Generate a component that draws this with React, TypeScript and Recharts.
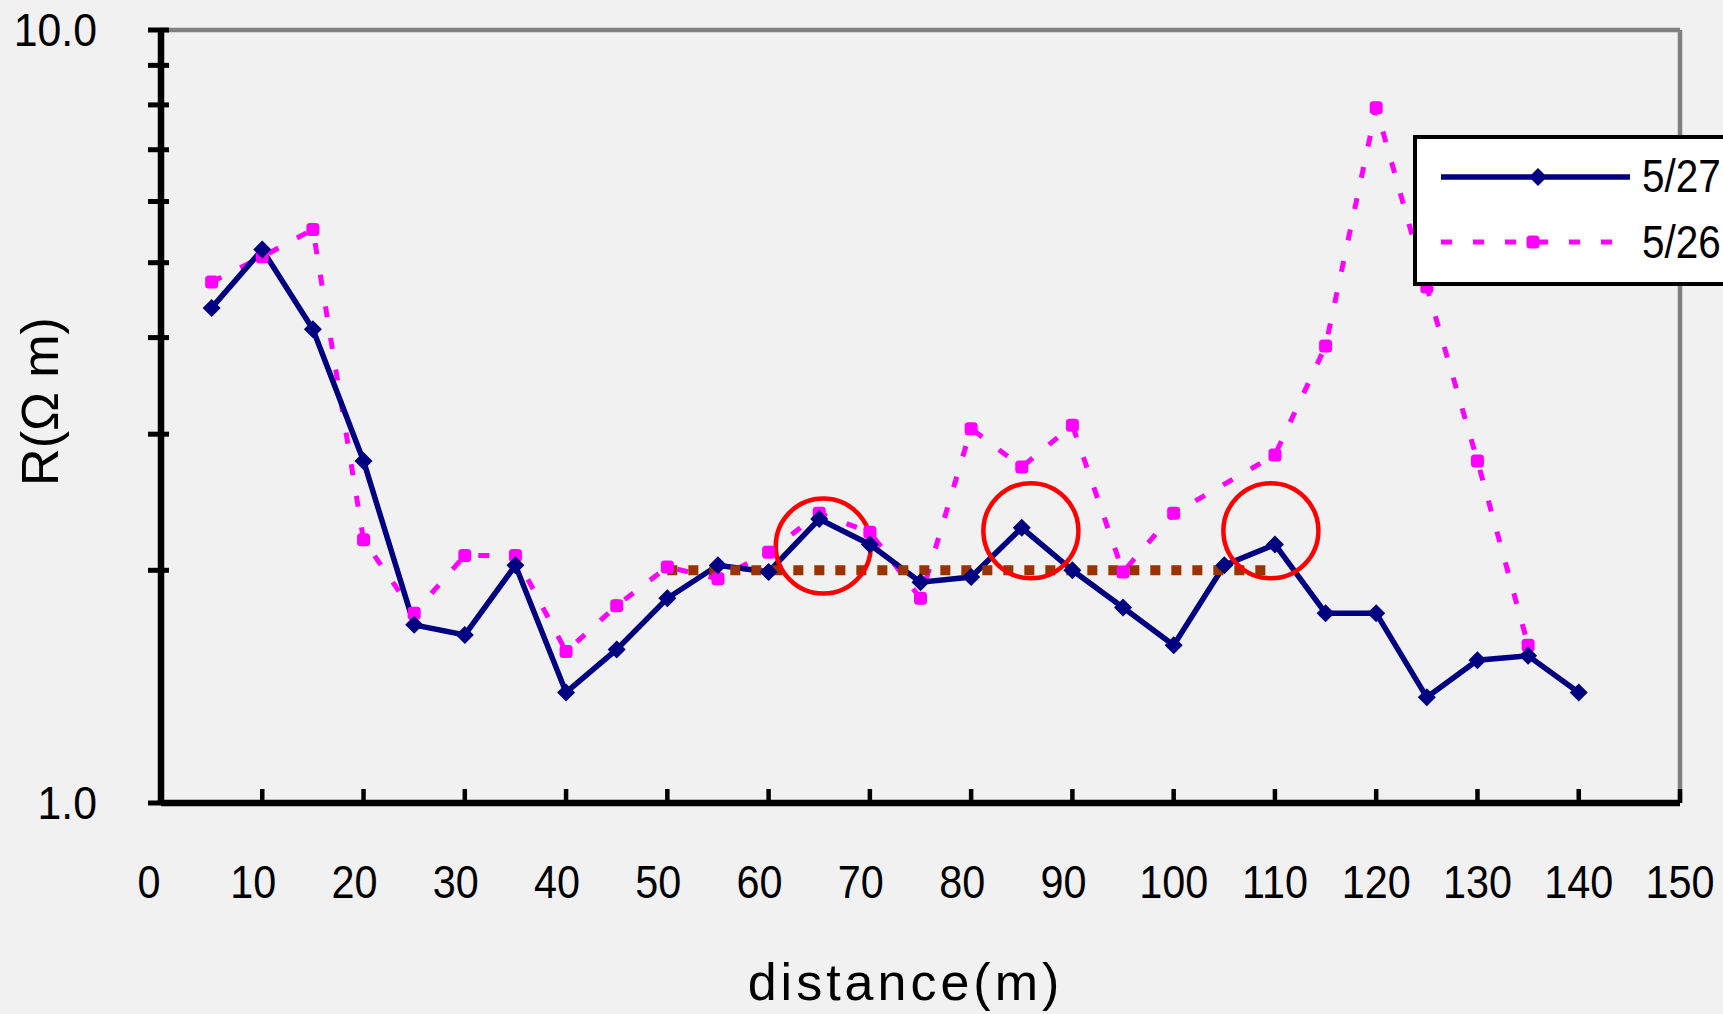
import React from 'react'
import { LineChart, Line, XAxis, YAxis, ReferenceLine, ReferenceDot, Legend } from 'recharts'

// distance along the line (m)
const distances = [5, 10, 15, 20, 25, 30, 35, 40, 45, 50, 55, 60, 65, 70, 75, 80, 85, 90, 95, 100, 105, 110, 115, 120, 125, 130, 135, 140]
// resistivity, 5/27
const r0527 = [4.37, 5.2, 4.1, 2.77, 1.7, 1.65, 2.03, 1.39, 1.58, 1.84, 2.03, 1.99, 2.33, 2.16, 1.93, 1.96, 2.27, 2.0, 1.79, 1.6, 2.03, 2.16, 1.76, 1.76, 1.37, 1.53, 1.55, 1.39]
// resistivity, 5/26 (no reading at 105 and 140)
const r0526 = [4.72, 5.09, 5.52, 2.19, 1.76, 2.09, 2.09, 1.57, 1.8, 2.02, 1.95, 2.11, 2.37, 2.24, 1.84, 3.05, 2.72, 3.08, 1.99, 2.37, null, 2.82, 3.9, 7.93, 4.65, 2.77, 1.6, null]

const xTicks = [0, 10, 20, 30, 40, 50, 60, 70, 80, 90, 100, 110, 120, 130, 140, 150]
const yTicks = [1, 2, 3, 4, 5, 6, 7, 8, 9, 10]
const yLabelled = [1, 10]

// highlighted peaks (red circles) and the 2.0 baseline
const circles = [
  { x: 65.4, y: 2.15 },
  { x: 85.9, y: 2.25 },
  { x: 109.6, y: 2.25 },
]
const baseline = { from: 50, to: 110, value: 2 }

const data = distances.map((d, i) => ({ d, a: r0527[i], b: r0526[i] }))

const NAVY = '#000080'
const PINK = '#FF00FF'
const font = "'Liberation Sans', Arial, sans-serif"

// condensed text, like the gothic face of the original
const Narrow = ({ x, y, anchor = 'start', size, sx = 0.9, children }: any) => (
  <text transform={`translate(${x},${y}) scale(${sx},1)`} textAnchor={anchor} fontFamily={font} fontSize={size} fill="#000">
    {children}
  </text>
)

const diamond = (cx: number, cy: number, key?: string) => (
  <polygon key={key} points={`${cx},${cy - 9} ${cx + 9},${cy} ${cx},${cy + 9} ${cx - 9},${cy}`} fill={NAVY} />
)
const square = (cx: number, cy: number, key?: string) => (
  <rect key={key} x={cx - 6.5} y={cy - 6.5} width={13} height={13} rx={3.5} fill={PINK} />
)

const NavyDot = (p: any) => (p.cy == null ? <g key={`n${p.index}`} /> : diamond(p.cx, p.cy, `n${p.index}`))
const PinkDot = (p: any) => (p.cy == null || p.value == null ? <g key={`p${p.index}`} /> : square(p.cx, p.cy, `p${p.index}`))

const YTick = (p: any) => {
  const { x, y, payload } = p
  const v = payload.value
  return (
    <g>
      <line x1={x - 13} x2={x + 8} y1={y} y2={y} stroke="#000" strokeWidth={5} />
      {yLabelled.includes(v) && (
        <Narrow x={x - 64} y={y + 16} anchor="end" size={46} sx={0.93}>{v.toFixed(1)}</Narrow>
      )}
    </g>
  )
}

const XTick = (p: any) => {
  const { x, y, payload } = p
  const v = payload.value
  const dx = v < 10 ? -12 : v < 100 ? -9 : 0
  return (
    <g>
      <line x1={x} x2={x} y1={y} y2={y - 14} stroke="#000" strokeWidth={4.5} />
      <Narrow x={x + dx} y={y + 95} anchor="middle" size={47} sx={0.88}>{v}</Narrow>
    </g>
  )
}

const LegendBox = () => (
  <svg width={320} height={151} style={{ display: 'block' }}>
    <rect x={2} y={2} width={340} height={147} fill="#fff" stroke="#000" strokeWidth={4} />
    <line x1={28} x2={217} y1={42} y2={42} stroke={NAVY} strokeWidth={5.5} />
    {diamond(125, 42)}
    <Narrow x={229} y={57} size={46} sx={0.88}>5/27</Narrow>
    <line x1={28} x2={217} y1={107} y2={107} stroke={PINK} strokeWidth={5} strokeDasharray="11 21" />
    {square(120, 107)}
    <Narrow x={229} y={123} size={46} sx={0.88}>5/26</Narrow>
  </svg>
)

const App: React.FC = () => (
  <div style={{ position: 'absolute', left: 0, top: 0, width: 1723, height: 1014, background: '#F1F1F1', overflow: 'hidden' }}>
    <LineChart width={1723} height={1014} data={data} margin={{ top: 30, right: 43, left: 0, bottom: 0 }}>
      <XAxis
        dataKey="d" type="number" domain={[0, 150]} ticks={xTicks} interval={0} allowDataOverflow
        height={211} tickSize={0} tickMargin={0} tickLine={false} tick={<XTick />}
        axisLine={{ stroke: '#000', strokeWidth: 6.5 }}
        label={{
          content: (lp: any) => {
            const vb = lp.viewBox
            return (
              <text x={vb.x + vb.width / 2 - 15} y={vb.y + 197} textAnchor="middle" fontFamily={font} fontSize={52} letterSpacing={4} fill="#000">
                distance(m)
              </text>
            )
          },
        }}
      />
      <YAxis
        type="number" scale="log" domain={[1, 10]} ticks={yTicks} interval={0} allowDataOverflow
        width={161} tickSize={0} tickMargin={0} tickLine={false} tick={<YTick />}
        axisLine={{ stroke: '#000', strokeWidth: 6.5 }}
        label={{
          content: (lp: any) => {
            const vb = lp.viewBox
            const cy = vb.y + vb.height / 2 - 15
            return (
              <text x={58} y={cy} transform={`rotate(-90, 58, ${cy})`} textAnchor="middle" fontFamily={font} fontSize={52} fill="#000">
                R(Ω m)
              </text>
            )
          },
        }}
      />
      <ReferenceLine y={10} stroke="#808080" strokeWidth={4.5} ifOverflow="visible" />
      <ReferenceLine x={150} stroke="#808080" strokeWidth={4.5} ifOverflow="visible" />
      <Line dataKey="b" stroke={PINK} strokeWidth={5} strokeDasharray="11 21" dot={PinkDot} connectNulls isAnimationActive={false} />
      <Line dataKey="a" stroke={NAVY} strokeWidth={5.5} dot={NavyDot} isAnimationActive={false} />
      <ReferenceLine
        segment={[{ x: baseline.from, y: baseline.value }, { x: baseline.to, y: baseline.value }]}
        stroke="#993300" strokeWidth={10} strokeDasharray="10 11"
      />
      {circles.map((c, i) => (
        <ReferenceDot key={i} x={c.x} y={c.y} r={47.5} fill="none" stroke="#FF0000" strokeWidth={4.5} ifOverflow="visible" />
      ))}
      <Legend
        layout="vertical" align="center" verticalAlign="middle"
        wrapperStyle={{ position: 'absolute', left: 1413, top: 135, width: 320, height: 151 }}
        content={() => <LegendBox />}
      />
    </LineChart>
  </div>
)

export default App
